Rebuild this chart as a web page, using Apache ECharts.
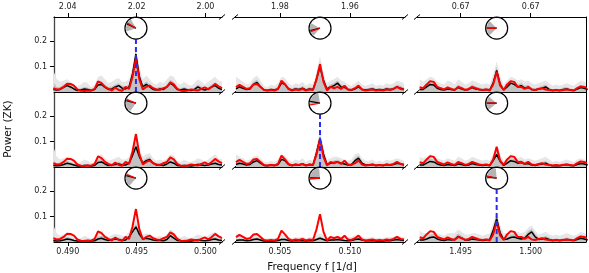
<!DOCTYPE html>
<html><head><meta charset="utf-8">
<script src="https://cdn.jsdelivr.net/npm/echarts@6/dist/echarts.min.js"></script>
<style>html,body{margin:0;padding:0;background:#fff}#c{width:589px;height:273px}</style>
</head><body><div id="c"></div>
<script>
// ---------- DATA ----------
const STEP = 0.00025;                       // frequency spacing of periodogram grid [1/d]
const colStart = [0.48895, 0.50186, 1.49207];
const colMin = [0.48900, 0.50179, 1.49188];
const colMax = [0.50120, 0.51393, 1.50395];
const peakFreq = [0.49495, 0.50786, 1.49757];
const bottomTicks = [[0.490, 0.495, 0.500], [0.505, 0.510], [1.495, 1.500]];
const yTicks = [0.1, 0.2];

// red: data periodogram (same in every row of a column)
const red_c1 = [0.015,0.010,0.012,0.020,0.033,0.032,0.025,0.010,0.005,0.004,0.006,0.005,0.012,0.042,0.035,0.020,0.012,0.006,0.018,0.008,0.005,0.020,0.012,0.060,0.130,0.050,0.010,0.020,0.025,0.015,0.010,0.008,0.015,0.020,0.038,0.030,0.012,0.005,0.004,0.006,0.010,0.008,0.006,0.012,0.018,0.010,0.020,0.032,0.022,0.015];
const red_c2 = [0.019,0.028,0.020,0.012,0.015,0.030,0.032,0.020,0.008,0.006,0.008,0.006,0.012,0.045,0.030,0.012,0.006,0.010,0.008,0.012,0.006,0.010,0.008,0.050,0.110,0.040,0.006,0.020,0.015,0.020,0.012,0.025,0.010,0.008,0.015,0.025,0.010,0.006,0.008,0.010,0.006,0.008,0.006,0.010,0.008,0.012,0.020,0.012,0.010];
const red_c3 = [0.019,0.015,0.030,0.043,0.040,0.020,0.015,0.010,0.018,0.012,0.008,0.020,0.015,0.008,0.012,0.020,0.015,0.010,0.008,0.010,0.006,0.030,0.080,0.025,0.008,0.030,0.043,0.040,0.020,0.020,0.012,0.020,0.010,0.008,0.012,0.015,0.010,0.008,0.006,0.008,0.006,0.008,0.010,0.008,0.006,0.015,0.022,0.020,0.015];

// black: median model periodogram per panel
const black_r1c1 = [0.010,0.008,0.010,0.018,0.025,0.020,0.012,0.006,0.008,0.012,0.010,0.006,0.010,0.028,0.030,0.018,0.010,0.012,0.020,0.025,0.015,0.012,0.020,0.070,0.150,0.060,0.020,0.030,0.020,0.010,0.008,0.012,0.010,0.020,0.035,0.025,0.010,0.008,0.012,0.008,0.006,0.010,0.020,0.012,0.008,0.012,0.020,0.025,0.015,0.010];
const black_r2c1 = [0.006,0.005,0.006,0.010,0.015,0.012,0.008,0.004,0.004,0.006,0.006,0.004,0.006,0.018,0.020,0.012,0.006,0.008,0.010,0.012,0.008,0.008,0.015,0.045,0.080,0.040,0.015,0.025,0.030,0.015,0.008,0.008,0.006,0.012,0.020,0.015,0.006,0.005,0.006,0.005,0.004,0.006,0.010,0.008,0.006,0.008,0.012,0.015,0.010,0.008];
const black_r3c1 = [0.005,0.004,0.005,0.008,0.012,0.010,0.006,0.004,0.004,0.005,0.005,0.004,0.005,0.012,0.015,0.010,0.006,0.010,0.012,0.010,0.006,0.008,0.020,0.040,0.060,0.030,0.012,0.015,0.012,0.008,0.006,0.006,0.005,0.010,0.025,0.015,0.006,0.005,0.005,0.004,0.004,0.006,0.008,0.006,0.005,0.006,0.010,0.012,0.008,0.006];
const black_r1c2 = [0.012,0.020,0.015,0.010,0.012,0.030,0.038,0.020,0.008,0.006,0.010,0.008,0.012,0.035,0.030,0.012,0.008,0.012,0.010,0.015,0.008,0.012,0.010,0.050,0.100,0.045,0.012,0.020,0.025,0.035,0.020,0.018,0.010,0.008,0.012,0.020,0.010,0.008,0.010,0.012,0.008,0.010,0.008,0.012,0.010,0.012,0.020,0.015,0.010];
const black_r2c2 = [0.010,0.015,0.012,0.008,0.010,0.020,0.025,0.015,0.006,0.005,0.008,0.006,0.010,0.030,0.025,0.010,0.006,0.010,0.008,0.012,0.006,0.010,0.008,0.055,0.115,0.050,0.010,0.015,0.018,0.020,0.015,0.012,0.008,0.010,0.025,0.035,0.015,0.008,0.008,0.010,0.006,0.008,0.006,0.010,0.008,0.010,0.015,0.012,0.008];
const black_r3c2 = [0.006,0.008,0.008,0.005,0.006,0.010,0.012,0.008,0.004,0.004,0.005,0.004,0.006,0.010,0.010,0.006,0.004,0.006,0.005,0.006,0.004,0.006,0.005,0.010,0.015,0.010,0.005,0.008,0.008,0.010,0.008,0.006,0.005,0.006,0.010,0.012,0.008,0.005,0.005,0.006,0.004,0.005,0.004,0.006,0.005,0.008,0.010,0.008,0.006];
const black_r1c3 = [0.010,0.010,0.020,0.030,0.028,0.015,0.010,0.008,0.012,0.010,0.008,0.018,0.012,0.008,0.010,0.018,0.012,0.010,0.008,0.010,0.008,0.035,0.085,0.030,0.008,0.020,0.035,0.030,0.020,0.025,0.015,0.018,0.010,0.008,0.012,0.015,0.020,0.010,0.006,0.008,0.006,0.010,0.012,0.008,0.006,0.012,0.018,0.015,0.010];
const black_r2c3 = [0.008,0.008,0.015,0.022,0.020,0.012,0.008,0.006,0.010,0.008,0.006,0.012,0.010,0.006,0.008,0.014,0.010,0.008,0.006,0.008,0.006,0.025,0.050,0.022,0.006,0.015,0.025,0.022,0.015,0.018,0.012,0.014,0.008,0.006,0.010,0.012,0.015,0.008,0.005,0.006,0.005,0.008,0.010,0.006,0.005,0.010,0.014,0.012,0.008];
const black_r3c3 = [0.008,0.008,0.012,0.018,0.020,0.012,0.008,0.006,0.010,0.008,0.010,0.022,0.015,0.008,0.008,0.012,0.010,0.008,0.006,0.008,0.010,0.045,0.092,0.035,0.010,0.012,0.018,0.020,0.015,0.012,0.015,0.030,0.040,0.020,0.010,0.012,0.015,0.010,0.006,0.008,0.006,0.008,0.010,0.008,0.006,0.010,0.015,0.012,0.008];

// grey: spread of posterior samples (outer and inner envelopes)
const greyOuter_r1c1 = [0.085,0.050,0.040,0.045,0.050,0.040,0.030,0.020,0.030,0.040,0.035,0.020,0.030,0.060,0.065,0.050,0.035,0.040,0.050,0.055,0.040,0.040,0.050,0.100,0.170,0.100,0.050,0.065,0.050,0.035,0.030,0.040,0.035,0.050,0.065,0.060,0.035,0.030,0.040,0.030,0.025,0.035,0.050,0.040,0.030,0.040,0.050,0.060,0.045,0.040];
const greyInner_r1c1 = [0.040,0.020,0.020,0.030,0.035,0.030,0.020,0.012,0.015,0.020,0.018,0.012,0.018,0.040,0.042,0.030,0.020,0.022,0.030,0.035,0.025,0.022,0.030,0.085,0.160,0.075,0.030,0.042,0.032,0.020,0.016,0.022,0.018,0.030,0.048,0.038,0.018,0.015,0.020,0.015,0.012,0.018,0.030,0.022,0.015,0.020,0.030,0.038,0.025,0.020];
const greyOuter_r2c1 = [0.080,0.040,0.030,0.035,0.040,0.035,0.025,0.015,0.020,0.030,0.025,0.015,0.020,0.045,0.050,0.035,0.025,0.030,0.035,0.040,0.030,0.030,0.040,0.075,0.110,0.070,0.040,0.050,0.055,0.035,0.025,0.030,0.025,0.035,0.050,0.045,0.025,0.020,0.030,0.022,0.020,0.025,0.035,0.030,0.022,0.030,0.040,0.050,0.035,0.030];
const greyInner_r2c1 = [0.030,0.012,0.012,0.018,0.025,0.020,0.014,0.008,0.008,0.012,0.012,0.008,0.012,0.030,0.032,0.022,0.012,0.015,0.018,0.022,0.015,0.015,0.025,0.060,0.095,0.055,0.025,0.035,0.040,0.022,0.014,0.015,0.012,0.020,0.032,0.025,0.012,0.010,0.012,0.010,0.008,0.012,0.018,0.015,0.010,0.014,0.020,0.025,0.018,0.014];
const greyOuter_r3c1 = [0.065,0.035,0.025,0.030,0.035,0.030,0.020,0.012,0.015,0.025,0.020,0.012,0.018,0.040,0.045,0.030,0.020,0.028,0.032,0.030,0.025,0.025,0.040,0.060,0.085,0.055,0.030,0.035,0.030,0.025,0.020,0.025,0.020,0.030,0.050,0.040,0.020,0.018,0.025,0.018,0.015,0.022,0.030,0.025,0.018,0.025,0.035,0.040,0.030,0.025];
const greyInner_r3c1 = [0.025,0.010,0.010,0.014,0.020,0.016,0.010,0.007,0.007,0.010,0.010,0.007,0.010,0.022,0.025,0.018,0.010,0.016,0.020,0.018,0.012,0.014,0.030,0.050,0.072,0.042,0.020,0.024,0.020,0.014,0.010,0.012,0.010,0.016,0.035,0.025,0.010,0.009,0.010,0.008,0.007,0.010,0.014,0.012,0.009,0.011,0.016,0.020,0.014,0.010];
const greyOuter_r1c2 = [0.060,0.050,0.040,0.030,0.035,0.055,0.065,0.045,0.025,0.020,0.030,0.025,0.035,0.060,0.055,0.035,0.025,0.035,0.030,0.040,0.025,0.035,0.030,0.080,0.140,0.075,0.035,0.045,0.050,0.060,0.045,0.040,0.030,0.025,0.035,0.045,0.030,0.025,0.030,0.035,0.025,0.030,0.025,0.035,0.030,0.035,0.045,0.040,0.035];
const greyInner_r1c2 = [0.025,0.032,0.025,0.016,0.020,0.040,0.048,0.030,0.014,0.011,0.016,0.014,0.020,0.045,0.040,0.020,0.014,0.020,0.016,0.024,0.014,0.020,0.016,0.065,0.120,0.060,0.020,0.030,0.036,0.045,0.030,0.026,0.016,0.014,0.020,0.030,0.016,0.014,0.016,0.020,0.014,0.016,0.014,0.020,0.016,0.020,0.030,0.025,0.018];
const greyOuter_r2c2 = [0.050,0.040,0.035,0.025,0.030,0.040,0.045,0.035,0.020,0.018,0.025,0.020,0.030,0.050,0.045,0.030,0.020,0.030,0.025,0.035,0.020,0.030,0.025,0.085,0.140,0.080,0.030,0.035,0.040,0.040,0.035,0.030,0.025,0.030,0.050,0.055,0.035,0.025,0.025,0.030,0.020,0.025,0.020,0.030,0.025,0.030,0.035,0.030,0.025];
const greyInner_r2c2 = [0.020,0.025,0.020,0.014,0.016,0.030,0.035,0.022,0.010,0.009,0.014,0.010,0.016,0.040,0.035,0.016,0.010,0.016,0.013,0.018,0.010,0.016,0.013,0.070,0.125,0.065,0.016,0.022,0.026,0.030,0.022,0.018,0.013,0.016,0.035,0.045,0.022,0.013,0.013,0.016,0.010,0.013,0.010,0.016,0.013,0.016,0.022,0.018,0.013];
const greyOuter_r3c2 = [0.035,0.030,0.025,0.020,0.020,0.028,0.030,0.025,0.015,0.014,0.018,0.015,0.020,0.028,0.028,0.020,0.015,0.020,0.018,0.022,0.015,0.020,0.018,0.028,0.035,0.028,0.018,0.022,0.024,0.026,0.022,0.020,0.018,0.020,0.026,0.030,0.022,0.016,0.018,0.020,0.015,0.018,0.015,0.020,0.018,0.022,0.026,0.022,0.018];
const greyInner_r3c2 = [0.012,0.014,0.013,0.009,0.010,0.016,0.018,0.013,0.007,0.007,0.009,0.007,0.010,0.016,0.016,0.010,0.007,0.010,0.009,0.010,0.007,0.010,0.009,0.016,0.022,0.016,0.009,0.012,0.013,0.015,0.012,0.010,0.009,0.010,0.015,0.018,0.012,0.009,0.009,0.010,0.007,0.009,0.007,0.010,0.009,0.012,0.015,0.012,0.009];
const greyOuter_r1c3 = [0.050,0.040,0.050,0.060,0.055,0.040,0.035,0.030,0.045,0.040,0.030,0.050,0.040,0.030,0.035,0.045,0.040,0.035,0.030,0.035,0.030,0.070,0.120,0.065,0.030,0.045,0.060,0.055,0.045,0.050,0.040,0.045,0.035,0.030,0.035,0.040,0.045,0.035,0.025,0.030,0.025,0.030,0.035,0.030,0.025,0.035,0.045,0.040,0.035];
const greyInner_r1c3 = [0.020,0.020,0.032,0.045,0.040,0.025,0.018,0.014,0.022,0.018,0.014,0.030,0.022,0.014,0.018,0.030,0.022,0.018,0.014,0.018,0.014,0.050,0.100,0.048,0.014,0.030,0.045,0.042,0.030,0.036,0.025,0.030,0.018,0.014,0.020,0.025,0.030,0.018,0.010,0.014,0.010,0.018,0.020,0.014,0.010,0.020,0.028,0.025,0.018];
const greyOuter_r2c3 = [0.040,0.035,0.040,0.050,0.045,0.035,0.030,0.025,0.035,0.030,0.025,0.040,0.035,0.025,0.030,0.040,0.035,0.030,0.025,0.030,0.025,0.050,0.080,0.050,0.025,0.035,0.050,0.045,0.035,0.040,0.030,0.035,0.030,0.025,0.030,0.035,0.040,0.030,0.020,0.025,0.020,0.025,0.030,0.025,0.020,0.030,0.035,0.030,0.025];
const greyInner_r2c3 = [0.015,0.015,0.025,0.035,0.030,0.020,0.015,0.011,0.018,0.015,0.011,0.022,0.018,0.011,0.015,0.024,0.018,0.015,0.011,0.015,0.011,0.038,0.065,0.035,0.011,0.024,0.036,0.032,0.024,0.028,0.020,0.024,0.015,0.011,0.016,0.020,0.024,0.015,0.008,0.011,0.008,0.015,0.016,0.011,0.008,0.016,0.022,0.020,0.015];
const greyOuter_r3c3 = [0.045,0.035,0.035,0.045,0.045,0.035,0.030,0.025,0.035,0.035,0.035,0.050,0.040,0.030,0.030,0.035,0.035,0.030,0.025,0.030,0.035,0.075,0.120,0.065,0.035,0.035,0.045,0.045,0.040,0.035,0.040,0.055,0.065,0.045,0.030,0.035,0.040,0.030,0.025,0.030,0.025,0.030,0.035,0.030,0.025,0.030,0.040,0.035,0.030];
const greyInner_r3c3 = [0.015,0.015,0.020,0.030,0.032,0.020,0.015,0.011,0.018,0.015,0.018,0.035,0.025,0.015,0.015,0.020,0.018,0.015,0.011,0.015,0.018,0.060,0.105,0.050,0.018,0.020,0.030,0.032,0.025,0.020,0.025,0.042,0.052,0.032,0.018,0.020,0.025,0.018,0.011,0.015,0.011,0.015,0.018,0.015,0.011,0.018,0.025,0.020,0.015];

// phase dials (degrees, counter-clockwise from +x): grey spread, black and red hands; row-major
const dialGreyFrom = [120, 150, 135, 150, 100, 140, 150, 95, 95];
const dialGreyTo   = [200, 230, 225, 235, 185, 220, 230, 180, 185];
const dialBlack    = [155, 195, 180, 165, 170, 180, 165, 178, 172];
const dialRed      = [150, 200, 180, 160, 190, 178, 160, 185, 168];
const dialPower = 0.252;

// ---------- LAYOUT ----------
const reds = [red_c1, red_c2, red_c3];
const blacks = [[black_r1c1, black_r1c2, black_r1c3],[black_r2c1, black_r2c2, black_r2c3],[black_r3c1, black_r3c2, black_r3c3]];
const gOut = [[greyOuter_r1c1, greyOuter_r1c2, greyOuter_r1c3],[greyOuter_r2c1, greyOuter_r2c2, greyOuter_r2c3],[greyOuter_r3c1, greyOuter_r3c2, greyOuter_r3c3]];
const gIn = [[greyInner_r1c1, greyInner_r1c2, greyInner_r1c3],[greyInner_r2c1, greyInner_r2c2, greyInner_r2c3],[greyInner_r3c1, greyInner_r3c2, greyInner_r3c3]];

const colLeft = [54, 235, 417], colWidth = [168, 170, 169];
const rowTop = [17, 92, 167], rowH = 75;
const YMAX = 0.296;
const FONT = 'DejaVu Sans';

function pts(c, vals) { return vals.map((v, i) => [colStart[c] + i * STEP, v]); }

const grids = [], xAxes = [], yAxes = [], series = [];
for (let r = 0; r < 3; r++) {
  for (let c = 0; c < 3; c++) {
    const g = grids.length;
    grids.push({ left: colLeft[c], top: rowTop[r], width: colWidth[c], height: rowH });
    const bx = xAxes.length;
    xAxes.push({
      type: 'value', gridIndex: g, position: 'bottom', min: colMin[c], max: colMax[c],
      axisLine: { show: true, lineStyle: { color: '#000', width: 1 } },
      axisTick: { show: r === 2, length: 4, customValues: bottomTicks[c], lineStyle: { color: '#000' } },
      axisLabel: { show: r === 2, customValues: bottomTicks[c], margin: 6, fontFamily: FONT, fontSize: 8, color: '#222',
        formatter: v => v.toFixed(3) },
      splitLine: { show: false }
    });
    if (r === 0) {
      xAxes.push({
        type: 'value', gridIndex: g, position: 'top', min: colMin[c], max: colMax[c],
        axisLine: { show: true, lineStyle: { color: '#000', width: 1 } },
        axisTick: { show: true, length: 4, customValues: bottomTicks[c], lineStyle: { color: '#000' } },
        axisLabel: { show: true, customValues: bottomTicks[c], margin: 6, fontFamily: FONT, fontSize: 8, color: '#222',
          formatter: v => (1 / v).toFixed(2) },
        splitLine: { show: false }
      });
    }
    const yi = yAxes.length;
    yAxes.push({
      type: 'value', gridIndex: g, min: 0, max: YMAX, position: c === 2 ? 'right' : 'left',
      axisLine: { show: c !== 1, lineStyle: { color: c === 0 ? '#444' : '#000', width: c === 0 ? 1.3 : 1 } },
      axisTick: { show: c === 0, length: 4, customValues: yTicks, lineStyle: { color: '#000' } },
      axisLabel: { show: c === 0, customValues: yTicks, margin: 7, fontFamily: FONT, fontSize: 8, color: '#222',
        formatter: v => v.toFixed(1) },
      splitLine: { show: false }
    });
    const common = { xAxisIndex: bx, yAxisIndex: yi, showSymbol: false, silent: true, animation: false };
    series.push(Object.assign({ type: 'line', data: pts(c, gOut[r][c]), lineStyle: { width: 0 },
      areaStyle: { color: '#e6e6e6', opacity: 1 }, z: 1 }, common));
    series.push(Object.assign({ type: 'line', data: pts(c, gIn[r][c]), lineStyle: { width: 0 },
      areaStyle: { color: '#c2c2c2', opacity: 1 }, z: 2 }, common));
    series.push(Object.assign({ type: 'line', data: pts(c, blacks[r][c]), lineStyle: { color: '#000', width: 1.5 }, z: 3 }, common));
    series.push(Object.assign({ type: 'line', data: pts(c, reds[c]), lineStyle: { color: '#ff0000', width: 2 }, z: 4 }, common));
    const k = r * 3 + c, diag = (r === c), pf = peakFreq[c];
    series.push({
      type: 'custom', xAxisIndex: bx, yAxisIndex: yi, silent: true, animation: false, clip: false, z: 5,
      data: [[pf, dialPower]],
      renderItem: (params, api) => {
        const ctr = api.coord([pf, dialPower]);
        const base = api.coord([pf, 0]);
        const R = 11, d2r = Math.PI / 180;
        const ch = [];
        if (diag) ch.push({ type: 'line', shape: { x1: ctr[0], y1: base[1], x2: ctr[0], y2: ctr[1] + R },
          style: { stroke: '#2b2bf2', lineWidth: 2, lineDash: [5, 3] } });
        ch.push({ type: 'sector', shape: { cx: ctr[0], cy: ctr[1], r: R - 1, r0: 0,
          startAngle: -dialGreyTo[k] * d2r, endAngle: -dialGreyFrom[k] * d2r, clockwise: true },
          style: { fill: '#b4b4b4' } });
        [[dialBlack[k], '#000'], [dialRed[k], '#ff0000']].forEach(([a, col]) => {
          ch.push({ type: 'line', shape: { x1: ctr[0], y1: ctr[1], x2: ctr[0] + (R - 1) * Math.cos(a * d2r), y2: ctr[1] - (R - 1) * Math.sin(a * d2r) },
            style: { stroke: col, lineWidth: 1.3 } });
        });
        ch.push({ type: 'circle', shape: { cx: ctr[0], cy: ctr[1], r: R }, style: { fill: null, stroke: '#000', lineWidth: 1.2 } });
        return { type: 'group', children: ch };
      }
    });
  }
}

// broken-axis marks
const graphic = [];
const breakX = [colLeft[0] + colWidth[0], colLeft[1], colLeft[1] + colWidth[1], colLeft[2]];
const breakY = [rowTop[0], rowTop[1], rowTop[2], rowTop[2] + rowH];
breakX.forEach(x => breakY.forEach(y => graphic.push({ type: 'line', silent: true,
  shape: { x1: x - 3, y1: y + 2.5, x2: x + 3, y2: y - 2.5 }, style: { stroke: '#000', lineWidth: 1 } })));
graphic.push({ type: 'text', x: 8, y: 129, rotation: Math.PI / 2, silent: true,
  style: { text: 'Power (ZK)', fontFamily: FONT, fontSize: 10.5, fill: '#111', align: 'center', verticalAlign: 'middle' } });
graphic.push({ type: 'text', x: 312, y: 267, silent: true,
  style: { text: 'Frequency f [1/d]', fontFamily: FONT, fontSize: 10.5, fill: '#111', align: 'center', verticalAlign: 'middle' } });

const chart = echarts.init(document.getElementById('c'), null, { renderer: 'canvas' });
chart.setOption({ backgroundColor: '#fff', animation: false, grid: grids, xAxis: xAxes, yAxis: yAxes, series, graphic });
</script></body></html>
